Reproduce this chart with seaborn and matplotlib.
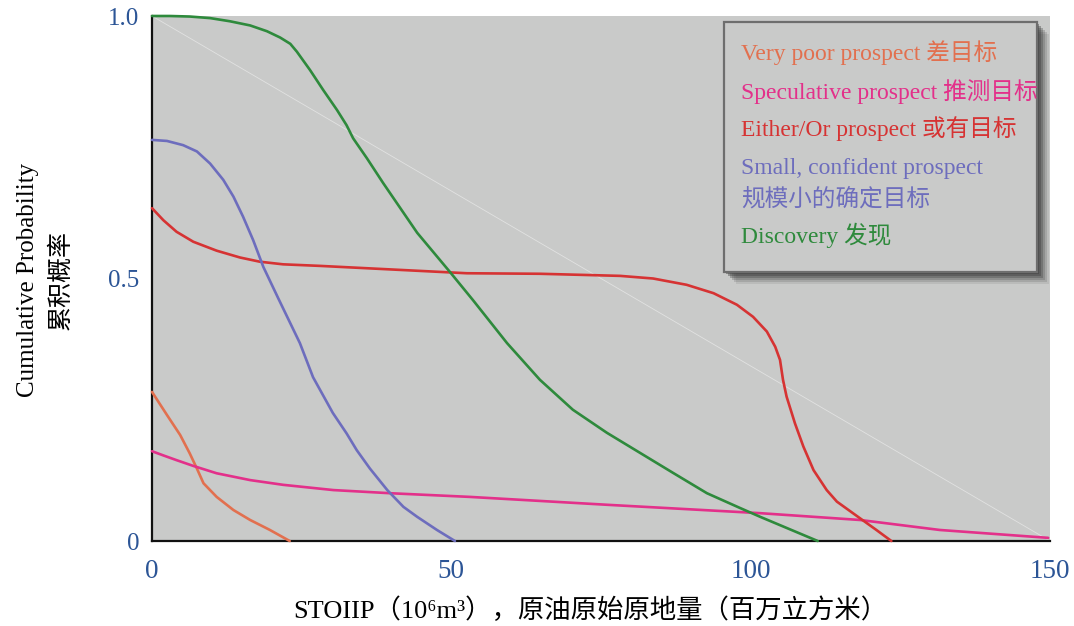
import pandas as pd
import matplotlib
matplotlib.use("Agg")
import matplotlib.pyplot as plt
import seaborn as sns
from matplotlib.patches import Rectangle

# Cumulative probability curves vs STOIIP (10^6 m^3) for five prospect types
very_poor_x = [0, 2.5, 4.7, 6.3, 7.5, 8.6, 10.8, 13.6, 16.4, 19.7, 23.0]
very_poor_p = [0.284, 0.240, 0.202, 0.167, 0.138, 0.110, 0.084, 0.059, 0.040, 0.021, 0.0]

speculative_x = [0, 1.9, 4.1, 6.9, 10.8, 16.4, 21.9, 30.3, 39.8, 53.1, 76.0, 101.6, 118.3, 131.6, 149.7]
speculative_p = [0.171, 0.163, 0.154, 0.143, 0.129, 0.116, 0.107, 0.097, 0.091, 0.084, 0.069, 0.053,
                 0.040, 0.021, 0.006]

either_or_x = [0, 1.9, 4.1, 6.9, 10.8, 14.7, 18.0, 21.9, 28.1, 38.6, 52.6, 64.8, 78.2, 83.7, 89.3,
               93.8, 97.7, 100.4, 102.7, 104.1, 104.9, 105.4, 106.0, 107.4, 108.8, 110.5, 112.7,
               114.4, 118.3, 121.0, 123.5]
either_or_p = [0.634, 0.611, 0.589, 0.570, 0.553, 0.540, 0.532, 0.527, 0.524, 0.518, 0.510, 0.509,
               0.505, 0.500, 0.488, 0.472, 0.450, 0.427, 0.399, 0.370, 0.345, 0.307, 0.275, 0.224,
               0.180, 0.135, 0.097, 0.075, 0.043, 0.021, 0.0]

small_conf_x = [0, 2.5, 5.2, 7.5, 9.7, 11.9, 13.6, 15.2, 16.9, 18.6, 21.1, 24.7, 26.9, 30.2, 32.5,
                34.2, 36.4, 39.3, 42.0, 44.3, 47.6, 50.6]
small_conf_p = [0.764, 0.762, 0.754, 0.742, 0.719, 0.688, 0.656, 0.618, 0.573, 0.522, 0.462, 0.377,
                0.312, 0.244, 0.205, 0.173, 0.138, 0.097, 0.065, 0.046, 0.021, 0.0]

discovery_x = [0, 3.0, 6.3, 9.7, 13.0, 16.4, 19.2, 21.4, 23.1, 24.2, 26.4, 28.6, 30.9, 32.5, 33.6,
               35.9, 38.6, 44.3, 49.8, 53.6, 59.3, 64.8, 70.3, 76.0, 81.5, 87.0, 92.7, 98.2,
               101.6, 111.2]
discovery_p = [1.0, 1.0, 0.999, 0.996, 0.990, 0.982, 0.971, 0.959, 0.947, 0.932, 0.897, 0.859, 0.821,
               0.792, 0.767, 0.729, 0.682, 0.587, 0.512, 0.459, 0.377, 0.307, 0.250, 0.206, 0.168,
               0.130, 0.091, 0.063, 0.046, 0.0]

series_names = [
    "Very poor prospect 差目标",
    "Speculative prospect 推测目标",
    "Either/Or prospect 或有目标",
    "Small, confident prospect\n规模小的确定目标",
    "Discovery 发现",
]
series_x = [very_poor_x, speculative_x, either_or_x, small_conf_x, discovery_x]
series_p = [very_poor_p, speculative_p, either_or_p, small_conf_p, discovery_p]
series_colors = ["#E2704F", "#E3308A", "#D63333", "#6D6DBD", "#2E8A3C"]

x_ticks = [0, 50, 100, 150]
y_ticks = [0, 0.5, 1.0]
y_tick_labels = ["0", "0.5", "1.0"]

frames = []
for name, xs, ps in zip(series_names, series_x, series_p):
    frames.append(pd.DataFrame({"stoiip": xs, "prob": ps, "prospect": name}))
df = pd.concat(frames, ignore_index=True)

sns.set_style("white")
plt.rcParams["font.family"] = ["Liberation Serif", "Noto Sans CJK SC", "DejaVu Sans"]

fig = plt.figure(figsize=(10.74, 6.26), dpi=100)
ax = fig.add_axes([0.14153, 0.13578, 0.83613, 0.83866])
ax.set_facecolor("#C9CAC9")

# faint reference diagonal
ax.plot([0, 150], [1, 0], color="white", lw=0.6, alpha=0.45, zorder=1)

sns.lineplot(data=df, x="stoiip", y="prob", hue="prospect", hue_order=series_names,
             palette=series_colors, linewidth=1.9, sort=False, estimator=None,
             legend=False, ax=ax, zorder=3)
for ln in ax.lines:
    ln.set_clip_on(False)
    ln.set_solid_joinstyle("round")
    ln.set_solid_capstyle("round")

ax.set_xlim(0, 150)
ax.set_ylim(0, 1)
ax.set_xticks(x_ticks)
ax.set_xticklabels([str(t) for t in x_ticks])
ax.set_yticks(y_ticks)
ax.set_yticklabels(y_tick_labels)
ax.tick_params(length=0, labelcolor="#2C5596")
ax.tick_params(axis="x", pad=13, labelsize=19.5)
ax.tick_params(axis="y", pad=9, labelsize=18)

for side in ["top", "right"]:
    ax.spines[side].set_visible(False)
for side in ["left", "bottom"]:
    ax.spines[side].set_color("#111111")
    ax.spines[side].set_linewidth(1.6)

ax.set_xlabel("STOIIP（10⁶m³），原油原始原地量（百万立方米）", fontsize=19, color="black")
ax.xaxis.set_label_coords(0.488, -0.108)
ax.set_ylabel("Cumulative Probability\n累积概率", fontsize=18, color="black", linespacing=1.55)
ax.yaxis.set_label_coords(-0.088, 0.497)

# legend panel with soft shadow
bx0, bx1 = 0.637, 0.9855
by0, by1 = 0.5124, 0.9886
px_x = 1 / 898
px_y = 1 / 525
for k, a in zip(range(12, 0, -2), [0.10, 0.16, 0.22, 0.30, 0.38, 0.45]):
    ax.add_patch(Rectangle((bx0 + k * px_x, by0 - k * px_y), bx1 - bx0, by1 - by0,
                           transform=ax.transAxes, facecolor="#3A3A3A", edgecolor="none",
                           alpha=a, zorder=5, clip_on=False))
ax.add_patch(Rectangle((bx0, by0), bx1 - bx0, by1 - by0, transform=ax.transAxes,
                       facecolor="#C9CAC9", edgecolor="#6E6E6E", linewidth=1.6,
                       zorder=6, clip_on=False))

text_x = 0.656
text_y = [0.931, 0.857, 0.785, 0.680, 0.583]
for name, col, ty in zip(series_names, series_colors, text_y):
    ax.text(text_x, ty, name, transform=ax.transAxes, color=col, fontsize=17,
            va="center", ha="left", linespacing=1.5, zorder=7)

fig.savefig("out.png", dpi=100, facecolor="white")
